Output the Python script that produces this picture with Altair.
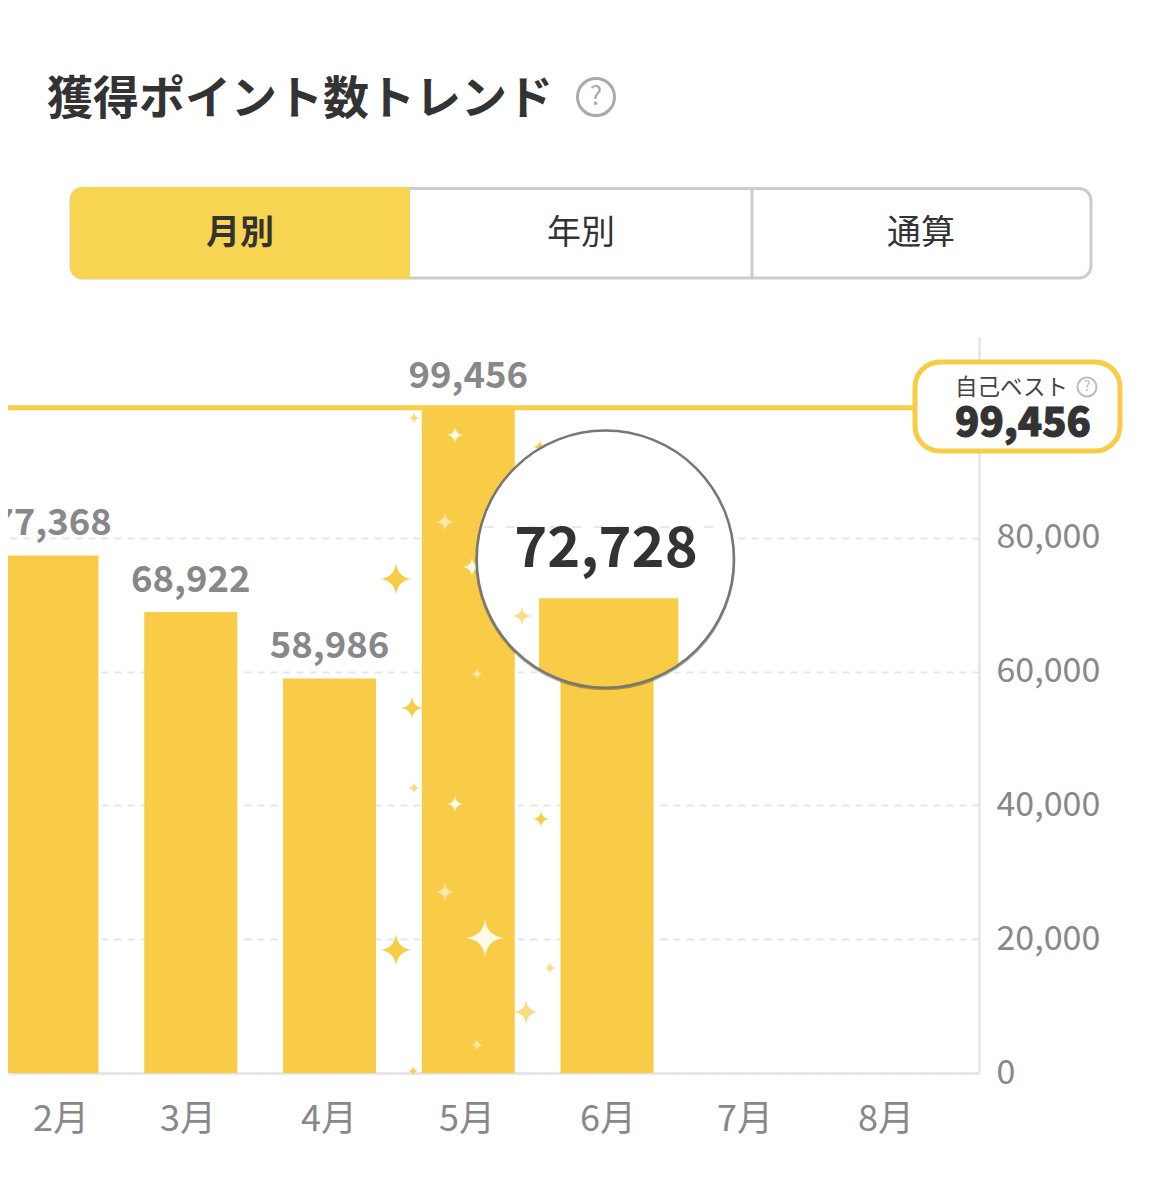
import altair as alt
import pandas as pd

months = [2, 3, 4, 5, 6]
points = [77368, 68922, 58986, 99456, 72728]
best = 99456
magnified = "72,728"
y_ticks = [0, 20000, 40000, 60000, 80000]
month_labels = ["2月", "3月", "4月", "5月", "6月", "7月", "8月"]
month_label_px = [61, 188, 329, 467, 608, 745, 886]
tabs = ["月別", "年別", "通算"]
title_text = "獲得ポイント数トレンド"

# sparkles: page x, page y, radius, colour
GOLD, PALE, WHITE, SOFT = "#F7CC46", "#F9E7A6", "#FFFBEA", "#F8DC82"
spark_x = [412, 414, 455, 541, 445, 485, 396, 550, 526, 477, 413, 414, 455, 540, 445, 396, 472, 477]
spark_y = [708, 788, 804, 819, 892, 938, 950, 968, 1012, 1045, 1071, 418, 435, 447, 522, 579, 567, 674]
spark_r = [11, 6, 8, 8, 9, 19, 16, 6, 12, 6, 5, 6, 8, 7, 9, 16, 9, 6]
spark_c = [GOLD, SOFT, WHITE, GOLD, PALE, WHITE, GOLD, SOFT, SOFT, PALE, GOLD, SOFT, WHITE, GOLD, PALE, GOLD, WHITE, PALE]

FONT = "Noto Sans CJK JP"
BAR = "#F8CC46"
GREY = "#888888"
DARK = "#333333"

X = lambda px: px - 8
Y = lambda py: py - 337

STAR = "M0,-1 Q0.1,-0.1 1,0 Q0.1,0.1 0,1 Q-0.1,0.1 -1,0 Q-0.1,-0.1 0,-1 Z"
LENS_BAR = "M-0.515,0.303 L0.568,0.303 L0.568,0.823 A1,1 0 0 1 -0.515,0.857 Z"

x_scale = alt.Scale(domain=[1.683, 8.681], nice=False, zero=False, padding=0)
y_scale = alt.Scale(domain=[0, 110015], nice=False)


def text(t, px, py, size, color=DARK, weight=400, align="center", font=FONT, **kw):
    return alt.Chart().mark_text(font=font, fontSize=size, fontWeight=weight, color=color,
                                 align=align, baseline="middle", **kw).encode(
        x=alt.value(X(px)), y=alt.value(Y(py)), text=alt.value(t))


def rect(x0, x1, y0, y1, **kw):
    return alt.Chart().mark_rect(**kw).encode(
        x=alt.value(X(x0)), x2=alt.value(X(x1)), y=alt.value(Y(y0)), y2=alt.value(Y(y1)))


def symbol(px, py, r, **kw):
    kw.setdefault("opacity", 1)
    return alt.Chart().mark_point(size=(2 * r) ** 2, **kw).encode(
        x=alt.value(X(px)), y=alt.value(Y(py)))


bars_df = pd.DataFrame({"m": months, "v": points})
label_df = bars_df[bars_df.m != 6]

base = alt.Chart(bars_df).mark_bar(size=93, color=BAR, orient="vertical").encode(
    x=alt.X("m:Q", scale=x_scale, title=None,
            axis=alt.Axis(labels=False, ticks=False, grid=False, domain=True,
                          domainColor="#E4E4E4", domainWidth=2.5)),
    y=alt.Y("v:Q", scale=y_scale, stack=None, title=None,
            axis=alt.Axis(orient="right", values=y_ticks, format=",d", ticks=False,
                          domain=True, domainColor="#E4E4E4", domainWidth=2.5,
                          grid=True, gridColor="#E6E6EA", gridWidth=2, gridDash=[7, 6],
                          labelFont=FONT, labelFontSize=34, labelColor=GREY,
                          labelPadding=17, labelFontWeight=400)),
)

value_labels = alt.Chart(label_df).transform_calculate(
    lbl="format(datum.v, ',d')"
).mark_text(font=FONT, fontSize=36.5, fontWeight=700, color=GREY, dy=-31, baseline="middle").encode(
    x=alt.X("m:Q", scale=x_scale), y=alt.Y("v:Q", scale=y_scale), text="lbl:N")

month_text = alt.Chart(pd.DataFrame({"x": [X(p) for p in month_label_px], "t": month_labels})).mark_text(
    font=FONT, fontSize=36, color=GREY, baseline="middle"
).encode(x=alt.X("x:Q", scale=None, axis=None), y=alt.value(Y(1120)), text="t:N")

best_line = alt.Chart(pd.DataFrame({"b": [best]})).mark_rule(color=BAR, strokeWidth=5).encode(
    y=alt.Y("b:Q", scale=y_scale), x=alt.value(0), x2=alt.value(X(915)))

spark_df = pd.DataFrame({"x": [X(v) for v in spark_x], "y": [Y(v) for v in spark_y],
                         "s": [(2 * r) ** 2 for r in spark_r], "c": spark_c})
sparkles = alt.Chart(spark_df).mark_point(shape=STAR, filled=True, opacity=1, strokeWidth=0).encode(
    x=alt.X("x:Q", scale=None, axis=None), y=alt.Y("y:Q", scale=None, axis=None),
    size=alt.Size("s:Q", scale=None, legend=None), color=alt.Color("c:N", scale=None, legend=None))

LX, LY, LR = 605.3, 559.2, 128.6
lens_shadow = symbol(LX, LY + 1, LR, shape="circle", filled=False, stroke="#3a2c00", strokeWidth=3, opacity=0.35)
lens_fill = symbol(LX, LY, LR, shape="circle", filled=True, color="white", strokeWidth=0)
lens_grid = alt.Chart().mark_rule(color="#E8E8E8", strokeWidth=2, strokeDash=[9, 13]).encode(
    x=alt.value(X(484)), x2=alt.value(X(726)), y=alt.value(Y(527)))
lens_text = text(magnified, 606, 550, 56, color=DARK, weight=700)
lens_bar = symbol(LX, LY, LR, shape=LENS_BAR, filled=True, color=BAR, strokeWidth=0)
lens_spark = symbol(522, 616, 9, shape=STAR, filled=True, color=SOFT, strokeWidth=0)
lens_ring = symbol(LX, LY, LR, shape="circle", filled=False, stroke="#777777", strokeWidth=2.5)

badge = [
    rect(915, 1120, 362, 451, fill="white", stroke=BAR, strokeWidth=5, cornerRadius=25),
    text("自己ベスト", 955, 388, 22.5, color="#444444", align="left"),
    symbol(1087, 387, 9.5, shape="circle", filled=False, stroke="#BBBBBB", strokeWidth=2),
    text("?", 1087, 387, 14, color="#BBBBBB"),
    text("99,456", 1023, 424, 40, color=DARK, weight=900, stroke=DARK, strokeWidth=1),
]

header = [
    text(title_text, 47, 100, 46, color=DARK, weight=700, align="left"),
    symbol(596, 97, 18.5, shape="circle", filled=False, stroke="#AAAAAA", strokeWidth=3),
    text("?", 596, 97, 26, color="#AAAAAA"),
    rect(71, 1091, 188.5, 278, fill="white", stroke="#CCCCCC", strokeWidth=3, cornerRadius=12),
    rect(70, 410, 187, 279, fill="#F7D452", cornerRadiusTopLeft=12, cornerRadiusBottomLeft=12),
    alt.Chart().mark_rule(color="#CCCCCC", strokeWidth=3).encode(
        x=alt.value(X(752)), y=alt.value(Y(188)), y2=alt.value(Y(278))),
    text(tabs[0], 240, 234, 34, weight=700),
    text(tabs[1], 581, 234, 34),
    text(tabs[2], 921, 234, 34),
]

chart = alt.layer(
    base, value_labels, month_text, best_line, sparkles,
    lens_shadow, lens_fill, lens_grid, lens_text, lens_bar, lens_spark, lens_ring,
    *badge, *header,
).properties(
    width=971, height=736,
    padding={"left": 0, "top": 329, "right": 175, "bottom": 119},
    autosize=alt.AutoSizeParams(type="none"),
    background="white",
).configure_view(stroke=None)

chart.save("out.html", embed_options={"renderer": "svg", "actions": False})
